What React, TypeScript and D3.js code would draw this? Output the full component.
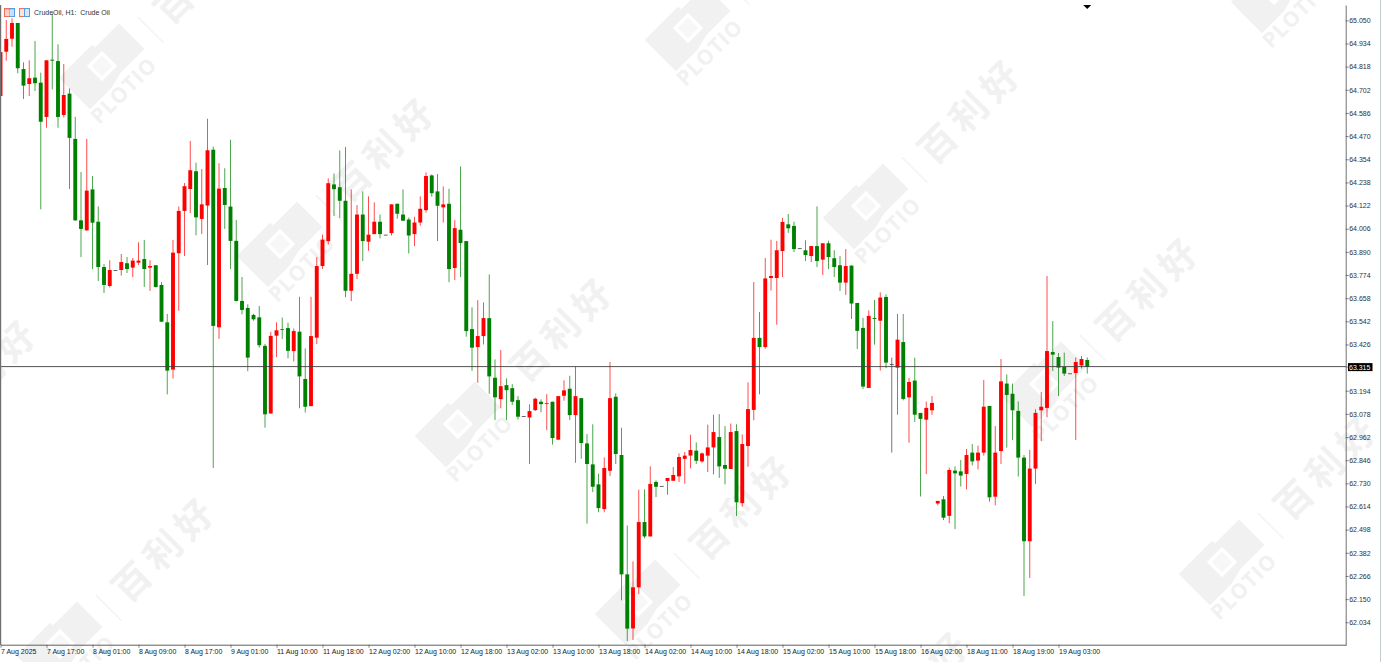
// App.tsx - CrudeOil H1 candlestick chart
import React, { useEffect, useRef } from 'react';
import { select, scaleLinear, axisBottom, axisRight } from 'd3';

const opens = [
  64.671, 64.893, 64.958, 65.037, 64.806, 64.731, 64.763, 64.738, 64.566, 64.853,
  64.846, 64.576, 64.683, 64.456, 64.048, 63.998, 64.203, 64.041, 63.814, 63.719,
  63.799, 63.799, 63.833, 63.811, 63.836, 63.854, 63.811, 63.823, 63.724, 63.537,
  63.300, 63.883, 64.095, 64.205, 64.294, 64.055, 64.122, 64.402, 63.512, 64.210,
  64.117, 63.945, 63.644, 63.609, 63.574, 63.562, 63.419, 63.080, 63.470, 63.503,
  63.508, 63.393, 63.490, 63.253, 63.117, 63.460, 63.819, 63.944, 64.228, 64.214,
  64.146, 63.695, 63.780, 64.077, 63.941, 63.979, 64.041, 63.976, 63.984, 64.131,
  64.077, 64.052, 63.979, 64.037, 64.099, 64.273, 64.193, 64.113, 64.131, 63.809,
  64.001, 63.944, 63.503, 63.413, 63.468, 63.558, 63.259, 63.152, 63.222, 63.207,
  63.147, 63.067, 63.060, 63.097, 63.139, 63.129, 63.139, 62.949, 63.169, 63.204,
  63.072, 63.157, 62.930, 62.825, 62.725, 62.601, 62.793, 63.164, 62.872, 62.274,
  62.003, 62.209, 62.536, 62.464, 62.737, 62.717, 62.742, 62.743, 62.765, 62.853,
  62.869, 62.894, 62.840, 62.869, 62.910, 62.962, 62.822, 62.802, 62.992, 62.631,
  62.917, 63.098, 63.459, 63.413, 63.759, 63.759, 63.894, 64.028, 64.020, 63.908,
  63.898, 63.869, 63.919, 63.851, 63.933, 63.858, 63.823, 63.736, 63.821, 63.634,
  63.509, 63.208, 63.559, 63.545, 63.664, 63.328, 63.310, 63.438, 63.161, 63.245,
  63.083, 63.049, 63.096, 62.629, 62.650, 62.567, 62.794, 62.790, 62.777, 62.884,
  62.844, 62.884, 63.118, 62.663, 62.892, 63.230, 63.179, 63.093, 62.859, 62.440,
  62.804, 63.096, 63.108, 63.388, 63.363, 63.313, 63.281, 63.283, 63.321, 63.348,
];

const closes = [
  64.891, 64.957, 65.037, 64.810, 64.723, 64.760, 64.735, 64.542, 64.850, 64.848,
  64.566, 64.676, 64.461, 64.048, 64.005, 64.197, 64.036, 63.814, 63.724, 63.799,
  63.799, 63.839, 63.804, 63.846, 63.846, 63.804, 63.819, 63.714, 63.540, 63.295,
  63.886, 64.095, 64.219, 64.299, 64.063, 64.128, 64.399, 63.519, 64.207, 64.125,
  63.945, 63.644, 63.599, 63.360, 63.552, 63.422, 63.076, 63.469, 63.497, 63.499,
  63.394, 63.493, 63.266, 63.114, 63.468, 63.819, 63.951, 64.234, 64.204, 64.146,
  63.695, 63.780, 64.077, 63.944, 63.976, 64.041, 63.979, 63.976, 64.128, 64.081,
  64.046, 63.972, 64.037, 64.106, 64.270, 64.184, 64.121, 64.128, 63.804, 64.009,
  63.934, 63.493, 63.410, 63.468, 63.558, 63.266, 63.161, 63.217, 63.197, 63.139,
  63.064, 63.067, 63.092, 63.154, 63.127, 63.132, 62.957, 63.167, 63.196, 63.072,
  63.167, 62.932, 62.827, 62.713, 62.606, 62.807, 63.157, 62.877, 62.274, 62.002,
  62.209, 62.536, 62.464, 62.727, 62.713, 62.717, 62.757, 62.772, 62.862, 62.869,
  62.897, 62.843, 62.880, 62.910, 62.987, 62.815, 62.803, 62.987, 62.635, 62.927,
  63.102, 63.459, 63.413, 63.757, 63.769, 63.898, 64.040, 64.008, 63.904, 63.908,
  63.874, 63.919, 63.844, 63.933, 63.864, 63.814, 63.736, 63.819, 63.631, 63.494,
  63.215, 63.569, 63.554, 63.661, 63.335, 63.328, 63.450, 63.153, 63.238, 63.074,
  63.053, 63.108, 63.133, 62.642, 62.558, 62.797, 62.780, 62.769, 62.872, 62.840,
  62.884, 63.114, 62.660, 62.884, 63.241, 63.173, 63.096, 62.859, 62.440, 62.804,
  63.083, 63.114, 63.393, 63.375, 63.310, 63.280, 63.281, 63.338, 63.353, 63.313,
];

const highs = [
  64.891, 65.052, 65.060, 65.037, 64.840, 64.850, 64.947, 64.788, 64.850, 65.085,
  64.930, 64.831, 64.709, 64.567, 64.290, 64.456, 64.270, 64.118, 63.829, 63.848,
  63.799, 63.879, 63.864, 63.859, 63.938, 63.950, 63.848, 63.823, 63.739, 63.579,
  63.950, 64.117, 64.235, 64.446, 64.337, 64.305, 64.557, 64.417, 64.334, 64.309,
  64.452, 64.050, 63.764, 63.627, 63.580, 63.619, 63.429, 63.489, 63.537, 63.561,
  63.535, 63.506, 63.665, 63.406, 63.665, 63.864, 63.976, 64.258, 64.283, 64.398,
  64.415, 64.203, 64.124, 64.193, 64.168, 64.138, 64.077, 63.976, 64.128, 64.131,
  64.203, 64.062, 64.066, 64.168, 64.288, 64.278, 64.280, 64.218, 64.206, 64.049,
  64.318, 63.944, 63.612, 63.648, 63.637, 63.777, 63.351, 63.398, 63.256, 63.227,
  63.167, 63.067, 63.126, 63.159, 63.151, 63.177, 63.139, 63.167, 63.246, 63.269,
  63.316, 63.157, 62.977, 63.026, 62.778, 62.860, 63.338, 63.181, 63.009, 62.519,
  62.339, 62.698, 62.700, 62.815, 62.745, 62.717, 62.757, 62.812, 62.880, 62.887,
  62.974, 62.935, 62.885, 63.024, 63.074, 63.077, 63.017, 63.030, 63.026, 62.975,
  63.236, 63.739, 63.589, 63.859, 63.951, 63.945, 64.060, 64.080, 64.041, 63.908,
  63.948, 63.919, 64.118, 63.933, 63.946, 63.898, 63.869, 63.904, 63.823, 63.634,
  63.559, 63.597, 63.649, 63.687, 63.677, 63.360, 63.579, 63.579, 63.258, 63.360,
  63.083, 63.140, 63.168, 62.642, 62.667, 62.809, 62.815, 62.847, 62.902, 62.927,
  62.919, 63.248, 63.118, 63.017, 63.353, 63.276, 63.230, 63.141, 62.872, 62.897,
  63.101, 63.188, 63.769, 63.543, 63.383, 63.385, 63.281, 63.361, 63.368, 63.361,
];

const lows = [
  64.671, 64.848, 64.918, 64.785, 64.656, 64.671, 64.696, 64.103, 64.512, 64.704,
  64.512, 64.564, 64.205, 64.045, 63.864, 63.995, 63.804, 63.744, 63.684, 63.711,
  63.799, 63.771, 63.784, 63.764, 63.824, 63.714, 63.694, 63.711, 63.539, 63.176,
  63.255, 63.594, 63.869, 64.085, 63.973, 63.980, 63.824, 62.807, 63.454, 64.005,
  63.804, 63.641, 63.577, 63.292, 63.545, 63.410, 63.009, 63.080, 63.363, 63.453,
  63.356, 63.341, 63.106, 63.085, 63.117, 63.428, 63.805, 63.926, 64.069, 64.059,
  63.663, 63.643, 63.754, 63.844, 63.895, 63.979, 63.957, 63.976, 63.972, 64.056,
  64.046, 63.882, 63.919, 64.021, 64.086, 64.166, 63.944, 64.037, 63.738, 63.749,
  63.764, 63.465, 63.294, 63.234, 63.426, 63.179, 63.047, 63.106, 63.047, 63.122,
  63.050, 63.067, 62.827, 63.092, 63.086, 62.997, 62.924, 62.947, 63.144, 63.047,
  62.833, 62.853, 62.528, 62.686, 62.585, 62.585, 62.767, 62.827, 62.144, 61.940,
  61.945, 62.175, 62.454, 62.464, 62.661, 62.717, 62.673, 62.743, 62.737, 62.728,
  62.805, 62.827, 62.833, 62.787, 62.775, 62.757, 62.725, 62.802, 62.566, 62.613,
  62.813, 63.046, 63.176, 63.405, 63.696, 63.525, 63.764, 63.985, 63.889, 63.908,
  63.844, 63.839, 63.814, 63.774, 63.804, 63.764, 63.694, 63.674, 63.554, 63.403,
  63.203, 63.208, 63.425, 63.295, 63.307, 62.884, 63.074, 63.146, 62.934, 63.038,
  62.664, 62.777, 63.073, 62.620, 62.546, 62.530, 62.501, 62.714, 62.700, 62.820,
  62.800, 62.869, 62.638, 62.620, 62.827, 62.909, 62.947, 62.764, 62.166, 62.256,
  62.727, 62.942, 63.061, 63.293, 63.168, 63.268, 63.281, 62.947, 63.305, 63.280,
];

const priceTicks = [
  65.05, 64.934, 64.818, 64.702, 64.586, 64.47, 64.354, 64.238, 64.122, 64.006, 63.89, 63.774, 63.658,
  63.542, 63.426, 63.194, 63.078, 62.962, 62.846, 62.73, 62.614, 62.498, 62.382, 62.266, 62.15, 62.034,
];
const currentPrice = 63.315;

// one label every 8 bars
const timeLabels = [
  '7 Aug 2025', '7 Aug 17:00', '8 Aug 01:00', '8 Aug 09:00', '8 Aug 17:00', '9 Aug 01:00',
  '11 Aug 10:00', '11 Aug 18:00', '12 Aug 02:00', '12 Aug 10:00', '12 Aug 18:00', '13 Aug 02:00',
  '13 Aug 10:00', '13 Aug 18:00', '14 Aug 02:00', '14 Aug 10:00', '14 Aug 18:00', '15 Aug 02:00',
  '15 Aug 10:00', '15 Aug 18:00', '16 Aug 02:00', '18 Aug 11:00', '18 Aug 19:00', '19 Aug 03:00',
];

// watermark anchors (centre of the logo)
const watermarks = [
  [102, 66], [280, 244], [458, 424], [638, 602], [814, 778],
  [688, 28], [866, 206], [1044, 384], [1222, 562], [1274, -10],
  [60, 644], [-118, 466],
];

const width = 1381;
const height = 662;
const FONT = '"Liberation Sans", sans-serif';
const UP = '#ff0000';
const DOWN = '#008000';
const MARK = '#f1f1f1';

const App: React.FC = () => {
  const svgRef = useRef<SVGSVGElement | null>(null);

  useEffect(() => {
    if (!svgRef.current) return;
    const svg = select(svgRef.current);
    svg.selectAll('*').remove();

    const x = scaleLinear().domain([0, 234]).range([0.5, 1346]);
    const y = scaleLinear().domain([61.92, 65.127]).range([645, 5]);

    // Watermarks
    const wm = svg.append('g')
      .selectAll('g')
      .data(watermarks)
      .enter()
      .append('g')
      .attr('transform', (d) => `translate(${d[0]},${d[1]}) rotate(-45)`);

    wm.append('polygon')
      .attr('points', '-39,-22 8,-22 8,-18 42,-18 42,18 8,18 -8,22 -39,22')
      .attr('fill', MARK);
    wm.append('rect')
      .attr('x', -9).attr('y', -9).attr('width', 18).attr('height', 18)
      .attr('fill', '#f7f7f7').attr('stroke', '#ffffff').attr('stroke-width', 3.5);
    wm.append('text')
      .attr('x', -2).attr('y', 40)
      .attr('text-anchor', 'middle')
      .attr('font-family', '"Open Sans", sans-serif')
      .attr('font-weight', 700)
      .attr('font-size', 21)
      .attr('letter-spacing', 1)
      .attr('fill', MARK)
      .text('PLOTIO');
    wm.append('line')
      .attr('x1', 60).attr('x2', 60).attr('y1', -9).attr('y2', 27)
      .attr('stroke', MARK).attr('stroke-width', 1.2);
    wm.append('text')
      .attr('x', 142).attr('y', 20)
      .attr('text-anchor', 'middle')
      .attr('font-family', '"Noto Sans CJK SC", sans-serif')
      .attr('font-weight', 700)
      .attr('font-size', 37)
      .attr('letter-spacing', 7)
      .attr('fill', MARK)
      .text('百利好');

    const bars = opens.map((o, i) => ({ i, o, c: closes[i], h: highs[i], l: lows[i] }));
    const colour = (d: { o: number; c: number }) => (d.c > d.o ? UP : d.c < d.o ? DOWN : '#404040');

    // Wicks
    svg.append('g')
      .selectAll('line')
      .data(bars)
      .enter()
      .append('line')
      .attr('x1', (d) => x(d.i))
      .attr('x2', (d) => x(d.i))
      .attr('y1', (d) => y(d.h))
      .attr('y2', (d) => y(d.l))
      .attr('stroke', colour)
      .attr('stroke-opacity', 0.7)
      .attr('stroke-width', 1);

    // Bodies
    svg.append('g')
      .selectAll('rect')
      .data(bars)
      .enter()
      .append('rect')
      .attr('x', (d) => x(d.i) - 1.95)
      .attr('width', 3.9)
      .attr('y', (d) => y(Math.max(d.o, d.c)))
      .attr('height', (d) => Math.max(y(Math.min(d.o, d.c)) - y(Math.max(d.o, d.c)), 0.8))
      .attr('fill', colour);

    // Current price line
    svg.append('line')
      .attr('x1', 0).attr('x2', 1346)
      .attr('y1', y(currentPrice)).attr('y2', y(currentPrice))
      .attr('stroke', '#404040').attr('stroke-width', 0.9);

    // Axes
    const yAxis = axisRight(y)
      .tickValues([...priceTicks, currentPrice])
      .tickFormat((d) => (d as number).toFixed(3))
      .tickSize(3)
      .tickSizeOuter(0)
      .tickPadding(0.5);
    const yG = svg.append('g').attr('transform', 'translate(1345.7,0)').call(yAxis as any);
    yG.select('.domain').attr('stroke', '#707070').attr('stroke-width', 1);
    yG.selectAll('.tick line').attr('stroke', '#505050').attr('stroke-width', 0.7);
    yG.selectAll('text')
      .attr('font-family', FONT)
      .attr('font-size', 7)
      .attr('fill', '#303030');

    const xAxis = axisBottom(x)
      .tickValues(timeLabels.map((_, i) => i * 8))
      .tickFormat((_, i) => timeLabels[i])
      .tickSize(3)
      .tickSizeOuter(0)
      .tickPadding(1);
    const xG = svg.append('g').attr('transform', 'translate(0,644.7)').call(xAxis as any);
    xG.select('.domain').attr('stroke', '#606060').attr('stroke-width', 1);
    xG.selectAll('.tick line').attr('stroke', '#505050').attr('stroke-width', 0.7);
    xG.selectAll('text')
      .attr('text-anchor', 'start')
      .attr('font-family', FONT)
      .attr('font-size', 7)
      .attr('fill', '#202020');

    // Left and right borders
    svg.append('line')
      .attr('x1', 0.6).attr('x2', 0.6).attr('y1', 5).attr('y2', 645)
      .attr('stroke', '#707070').attr('stroke-width', 1.2);
    svg.append('line')
      .attr('x1', 1380.5).attr('x2', 1380.5).attr('y1', 0).attr('y2', height)
      .attr('stroke', '#c4d0d0').attr('stroke-width', 1);

    // Current price tag
    const tagY = y(currentPrice);
    svg.append('rect')
      .attr('x', 1348).attr('y', tagY - 3.5).attr('width', 24.5).attr('height', 8)
      .attr('fill', '#000000');
    svg.append('text')
      .attr('x', 1349).attr('y', tagY + 3)
      .attr('font-family', FONT).attr('font-size', 7).attr('fill', '#ffffff')
      .text(currentPrice.toFixed(3));
    yG.selectAll('.tick text').filter((d) => d === currentPrice).remove();

    // Shift marker at the top of the chart
    svg.append('path')
      .attr('d', `M${x(189) - 4},5 h8 l-4,4 z`)
      .attr('fill', '#000000');

    // Header icons and title
    const header = svg.append('g');
    header.append('rect').attr('x', 4.5).attr('y', 8.5).attr('width', 5).attr('height', 8)
      .attr('fill', '#f9b0a8').attr('stroke', '#f07060');
    header.append('rect').attr('x', 9.5).attr('y', 8.5).attr('width', 5).attr('height', 8)
      .attr('fill', '#a8ccf4').attr('stroke', '#5a9ae0');
    [11, 13, 15].forEach((ly) => {
      header.append('line').attr('x1', 5).attr('x2', 14).attr('y1', ly).attr('y2', ly)
        .attr('stroke', '#ffffff').attr('stroke-width', 0.8);
    });
    header.append('rect').attr('x', 19.5).attr('y', 8.5).attr('width', 5).attr('height', 8)
      .attr('fill', '#fbe3e0').attr('stroke', '#f07060');
    header.append('rect').attr('x', 24.5).attr('y', 8.5).attr('width', 5).attr('height', 8)
      .attr('fill', '#d8e8fa').attr('stroke', '#5a9ae0');
    header.append('text')
      .attr('x', 34).attr('y', 15)
      .attr('font-family', FONT).attr('font-size', 7).attr('fill', '#303030')
      .attr('xml:space', 'preserve')
      .text('CrudeOil, H1:  Crude Oil');
  }, []);

  return (
    <svg
      ref={svgRef}
      width={width}
      height={height}
      style={{ position: 'absolute', left: 0, top: 0, display: 'block', background: '#ffffff' }}
    ></svg>
  );
};

export default App;
